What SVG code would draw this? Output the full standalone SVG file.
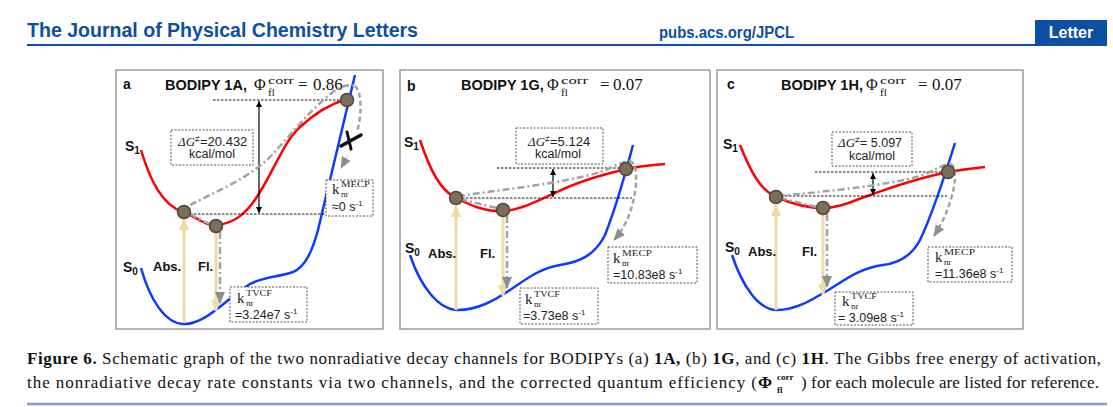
<svg xmlns="http://www.w3.org/2000/svg" width="1113" height="407" viewBox="0 0 1113 407">
<defs>
<style>
.serif{font-family:"Liberation Serif","Times New Roman",serif;fill:#111}
.hdr{font-family:"Liberation Sans",Arial,sans-serif;font-weight:bold;fill:#0d4fa3}
.cap{font-family:"Liberation Serif","Times New Roman",serif;fill:#111}
.panel{fill:#fff;stroke:#9a9a9a;stroke-width:1.5}
.s1{fill:none;stroke:#ff0000;stroke-width:2.5}
.s0{fill:none;stroke:#0a3cff;stroke-width:2.5}
.hl{stroke:#111;stroke-width:1;stroke-dasharray:2.5 1.5;fill:none}
.box{fill:#fff;stroke:#555;stroke-width:1;stroke-dasharray:2 1.5}
.wa{stroke:#f2d8a5;stroke-width:3;marker-end:url(#wh)}
.gdd{fill:none;stroke:#a3a3a3;stroke-width:2.5;stroke-dasharray:7 3 2 3}
.gds{fill:none;stroke:#a3a3a3;stroke-width:2.5;stroke-dasharray:5 3}
.gv{fill:none;stroke:#a3a3a3;stroke-width:2.5;stroke-dasharray:7 3 2 3;marker-end:url(#gh)}
.dbl{stroke:#000;stroke-width:1.2;marker-start:url(#bk);marker-end:url(#bk)}
.node{fill:#7b6f55;stroke:#51483a;stroke-width:1.5}
.lbl{font-family:"Liberation Sans",Arial,sans-serif;font-weight:bold;fill:#111}
.bt{font-family:"Liberation Sans",Arial,sans-serif;fill:#222}
.k{font-family:"Liberation Serif","DejaVu Serif",serif;fill:#222}
</style>
<marker id="wh" viewBox="0 0 12 10" refX="11" refY="5" markerWidth="12" markerHeight="10" markerUnits="userSpaceOnUse" orient="auto"><path d="M0,0 L12,5 L0,10 z" fill="#f2d8a5"/></marker>
<marker id="gh" viewBox="0 0 12 10" refX="11" refY="5" markerWidth="12" markerHeight="10" markerUnits="userSpaceOnUse" orient="auto"><path d="M0,0 L12,5 L0,10 z" fill="#8e8e8e"/></marker>
<marker id="bk" viewBox="0 0 6 6" refX="6" refY="3" markerWidth="6" markerHeight="6" markerUnits="userSpaceOnUse" orient="auto-start-reverse"><path d="M0,0 L6,3 L0,6 z" fill="#000"/></marker>
</defs>
<rect width="1113" height="407" fill="#fff"/>

<g id="header">
<text class="hdr" x="27" y="37" font-size="20" textLength="391" lengthAdjust="spacingAndGlyphs">The Journal of Physical Chemistry Letters</text>
<text class="hdr" x="659" y="38" font-size="16" textLength="135" lengthAdjust="spacingAndGlyphs">pubs.acs.org/JPCL</text>
<rect x="1035" y="20" width="72" height="25" fill="#0d4fa3"/>
<text x="1071" y="38" font-family="Liberation Sans, Arial, sans-serif" font-weight="bold" font-size="16" fill="#fff" text-anchor="middle">Letter</text>
<line x1="27" y1="45" x2="1107" y2="45" stroke="#0d4fa3" stroke-width="2"/>
</g>

<!-- Panel a -->
<g id="panel-a">
<rect class="panel" x="116" y="70" width="267" height="259"/>
<text class="lbl" x="123" y="89" font-size="14">a</text>
<text class="lbl" x="165" y="90" font-size="14.5">BODIPY 1A,</text>
<text class="serif" x="254" y="90" font-size="16">Φ</text>
<text class="serif" x="268" y="84" font-size="11" textLength="26" lengthAdjust="spacingAndGlyphs">corr</text>
<text class="serif" x="268" y="96" font-size="11">fl</text>
<text class="serif" x="298" y="90" font-size="17">=</text>
<text class="serif" x="313" y="90" font-size="17">0.86</text>
<text class="lbl" x="125" y="151" font-size="14">S<tspan font-size="10" dy="3">1</tspan></text>
<text class="lbl" x="123" y="272" font-size="14">S<tspan font-size="10" dy="3">0</tspan></text>
<path class="s1" d="M141,150 C150,180 162,205 183,212 C197,217 205,226 216,225 C235,224 248,212 260,192 C275,168 285,140 300,127 C315,113 330,104 347,99"/>
<path class="s0" d="M141,268 C150,300 165,323 183,324 C205,325 225,300 250,284 C265,276 280,277 293,272 C305,267 312,252 318,230 L355,75"/>
<g id="a-connectors">
<path class="hl" d="M213,100 H347"/>
<path class="hl" d="M186,214 H327"/>
<line class="dbl" x1="259" y1="101" x2="259" y2="213"/>
<line class="wa" x1="184" y1="323" x2="184" y2="219"/>
<line class="wa" x1="216" y1="233" x2="216" y2="311"/>
<line class="gv" x1="220" y1="232" x2="220" y2="303"/>
<path class="gdd" d="M190,214 Q200,220 210,224" stroke-width="2"/>
<path class="gdd" d="M190,205 C215,192 250,178 272,155 C292,133 312,108 333,92 C341,86 349,84 355,86"/>
<path class="gds" d="M355,86 C362,92 362,115 357,132"/>
<path d="M352,148 L341,168" fill="none" stroke="#e9e5dd" stroke-width="2.5" stroke-dasharray="5 3" marker-end="url(#gh)"/>
<line x1="341" y1="146" x2="361" y2="135" stroke="#111" stroke-width="3.5" stroke-linecap="round"/>
<line x1="347" y1="132" x2="351" y2="149" stroke="#111" stroke-width="3" stroke-linecap="round"/>
</g>
<g id="a-dG"><rect class="box" x="171" y="130" width="82" height="35"/>
<text class="bt" x="178" y="146" font-size="13"><tspan font-family="Liberation Serif, serif" font-style="italic">ΔG</tspan><tspan font-size="9" dy="-4">≠</tspan><tspan dy="4">=20.432</tspan></text>
<text class="bt" x="212" y="158" font-size="12.5" text-anchor="middle">kcal/mol</text></g>
<g id="a-kMECP"><rect class="box" x="326" y="180" width="47" height="36"/>
<text class="k" x="332" y="194" font-size="15">k</text>
<text class="k" x="341" y="186.5" font-size="8" textLength="29" lengthAdjust="spacingAndGlyphs">MECP</text>
<text class="k" x="341" y="196.5" font-size="9">nr</text>
<text class="bt" x="332" y="210.5" font-size="12.5">≈0 s<tspan font-size="8" dy="-5">-1</tspan></text></g>
<g id="a-kTVCF"><rect class="box" x="230" y="287" width="77" height="35"/>
<text class="k" x="237" y="303" font-size="15">k</text>
<text class="k" x="246" y="295.5" font-size="8" textLength="26" lengthAdjust="spacingAndGlyphs">TVCF</text>
<text class="k" x="246" y="305.5" font-size="9">nr</text>
<text class="bt" x="235" y="319" font-size="12.5">=3.24e7 s<tspan font-size="8" dy="-5">-1</tspan></text></g>
<text class="lbl" x="153" y="271" font-size="13">Abs.</text>
<text class="lbl" x="198" y="271" font-size="13">Fl.</text>
<g id="a-nodes">
<circle id="a-n1" class="node" cx="184" cy="212" r="6.5"/>
<circle id="a-n2" class="node" cx="216" cy="226" r="6.5"/>
<circle id="a-n3" class="node" cx="347" cy="100" r="6.5"/>
</g>
</g>

<!-- Panel b -->
<g id="panel-b">
<rect class="panel" x="400" y="70" width="310" height="259"/>
<text class="lbl" x="407" y="91" font-size="14">b</text>
<text class="lbl" x="461" y="90" font-size="14.5">BODIPY 1G,</text>
<text class="serif" x="547" y="90" font-size="16">Φ</text>
<text class="serif" x="561" y="84" font-size="11" textLength="27" lengthAdjust="spacingAndGlyphs">corr</text>
<text class="serif" x="561" y="96" font-size="11">fl</text>
<text class="serif" x="600" y="90" font-size="17">=</text>
<text class="serif" x="613" y="90" font-size="17">0.07</text>
<text class="lbl" x="404" y="147" font-size="14">S<tspan font-size="10" dy="3">1</tspan></text>
<text class="lbl" x="405" y="253" font-size="14">S<tspan font-size="10" dy="3">0</tspan></text>
<path class="s1" d="M420,140 C430,170 440,190 456,198 C470,205 485,212 503,211 C520,210 540,200 555,193 C575,183 600,175 627,169 C640,166 655,165 665,164"/>
<path class="s0" d="M410,255 C420,285 438,310 458,310 C478,310 495,300 510,290 C525,280 540,268 560,265 C580,262 595,255 605,235 C615,210 625,175 633,145"/>
<g id="b-connectors">
<path class="hl" d="M497,168 H627"/>
<path class="hl" d="M458,198 H632"/>
<line class="dbl" x1="553" y1="169" x2="553" y2="197"/>
<line class="wa" x1="456" y1="310" x2="456" y2="206"/>
<line class="wa" x1="503" y1="217" x2="503" y2="296"/>
<line class="gv" x1="507" y1="216" x2="507" y2="288"/>
<path class="gdd" d="M460,199 Q480,204 497,208" stroke-width="2"/>
<path class="gdd" d="M458,196 C500,190 565,183 600,172 C610,169 620,162 630,161"/>
<path class="gds" d="M630,161 C640,163 637,200 626,222 Q621,232 614,240" marker-end="url(#gh)"/>
</g>
<g id="b-dG"><rect class="box" x="516" y="128" width="87" height="36"/>
<text class="bt" x="528" y="146" font-size="13"><tspan font-family="Liberation Serif, serif" font-style="italic">ΔG</tspan><tspan font-size="9" dy="-4">≠</tspan><tspan dy="4">=5.124</tspan></text>
<text class="bt" x="558" y="158" font-size="12.5" text-anchor="middle">kcal/mol</text></g>
<g id="b-kMECP"><rect class="box" x="608" y="247" width="89" height="36"/>
<text class="k" x="613" y="263" font-size="15">k</text>
<text class="k" x="622" y="255.5" font-size="8" textLength="30" lengthAdjust="spacingAndGlyphs">MECP</text>
<text class="k" x="622" y="265.5" font-size="9">nr</text>
<text class="bt" x="613" y="279" font-size="12.5">=10.83e8 s<tspan font-size="8" dy="-5">-1</tspan></text></g>
<g id="b-kTVCF"><rect class="box" x="520" y="288" width="78" height="36"/>
<text class="k" x="525" y="304" font-size="15">k</text>
<text class="k" x="534" y="296.5" font-size="8" textLength="26" lengthAdjust="spacingAndGlyphs">TVCF</text>
<text class="k" x="534" y="306.5" font-size="9">nr</text>
<text class="bt" x="523" y="320" font-size="12.5">=3.73e8 s<tspan font-size="8" dy="-5">-1</tspan></text></g>
<text class="lbl" x="428" y="258" font-size="13">Abs.</text>
<text class="lbl" x="480" y="258" font-size="13">Fl.</text>
<g id="b-nodes">
<circle id="b-n1" class="node" cx="456" cy="198" r="6.5"/>
<circle id="b-n2" class="node" cx="503" cy="210" r="6.5"/>
<circle id="b-n3" class="node" cx="626" cy="169" r="6.5"/>
</g>
</g>

<!-- Panel c -->
<g id="panel-c">
<rect class="panel" x="717" y="70" width="306" height="259"/>
<text class="lbl" x="727" y="89" font-size="14">c</text>
<text class="lbl" x="781" y="90" font-size="14.5">BODIPY 1H,</text>
<text class="serif" x="866" y="90" font-size="16">Φ</text>
<text class="serif" x="880" y="84" font-size="11" textLength="26" lengthAdjust="spacingAndGlyphs">corr</text>
<text class="serif" x="880" y="96" font-size="11">fl</text>
<text class="serif" x="918" y="90" font-size="17">=</text>
<text class="serif" x="932" y="90" font-size="17">0.07</text>
<text class="lbl" x="723" y="149" font-size="14">S<tspan font-size="10" dy="3">1</tspan></text>
<text class="lbl" x="725" y="252" font-size="14">S<tspan font-size="10" dy="3">0</tspan></text>
<path class="s1" d="M740,145 C750,170 760,190 776,197 C790,203 805,208 823,208 C840,208 855,200 870,195 C890,188 910,180 948,172 C960,170 975,168 985,167"/>
<path class="s0" d="M732,255 C742,285 758,310 777,310 C797,310 815,298 830,289 C845,280 860,268 883,265 C900,263 912,255 920,240 C932,215 945,175 955,143"/>
<g id="c-connectors">
<path class="hl" d="M815,172 H948"/>
<path class="hl" d="M777,196 H947"/>
<line class="dbl" x1="873" y1="173" x2="873" y2="195"/>
<line class="wa" x1="776" y1="310" x2="776" y2="205"/>
<line class="wa" x1="823" y1="215" x2="823" y2="295"/>
<line class="gv" x1="827" y1="214" x2="827" y2="287"/>
<path class="gdd" d="M780,198 Q800,203 817,207" stroke-width="2"/>
<path class="gdd" d="M778,196 C820,192 885,186 920,176 C932,172 942,164 951,164"/>
<path class="gds" d="M951,164 C958,168 955,190 948,208 Q943,222 934,236" marker-end="url(#gh)"/>
</g>
<g id="c-dG"><rect class="box" x="832" y="132" width="80" height="34"/>
<text class="bt" x="838" y="147" font-size="12.5"><tspan font-family="Liberation Serif, serif" font-style="italic" font-size="13">ΔG</tspan><tspan font-size="9" dy="-4">≠</tspan><tspan dy="4">= 5.097</tspan></text>
<text class="bt" x="872" y="160" font-size="12.5" text-anchor="middle">kcal/mol</text></g>
<g id="c-kMECP"><rect class="box" x="928" y="247" width="84" height="35"/>
<text class="k" x="935" y="262" font-size="15">k</text>
<text class="k" x="944" y="254.5" font-size="8" textLength="31" lengthAdjust="spacingAndGlyphs">MECP</text>
<text class="k" x="944" y="264.5" font-size="9">nr</text>
<text class="bt" x="935" y="278" font-size="12.5">=11.36e8 s<tspan font-size="8" dy="-5">-1</tspan></text></g>
<g id="c-kTVCF"><rect class="box" x="835" y="292" width="78" height="33"/>
<text class="k" x="842" y="306" font-size="15">k</text>
<text class="k" x="851" y="298.5" font-size="8" textLength="26" lengthAdjust="spacingAndGlyphs">TVCF</text>
<text class="k" x="851" y="308.5" font-size="9">nr</text>
<text class="bt" x="838" y="322" font-size="12.5">= 3.09e8 s<tspan font-size="8" dy="-5">-1</tspan></text></g>
<text class="lbl" x="748" y="256" font-size="13">Abs.</text>
<text class="lbl" x="802" y="256" font-size="13">Fl.</text>
<g id="c-nodes">
<circle id="c-n1" class="node" cx="776" cy="197" r="6.5"/>
<circle id="c-n2" class="node" cx="823" cy="208" r="6.5"/>
<circle id="c-n3" class="node" cx="948" cy="172" r="6.5"/>
</g>
</g>

<g id="caption">
<text class="cap" x="27" y="364" font-size="17" textLength="1074" lengthAdjust="spacing"><tspan font-weight="bold">Figure 6.</tspan> Schematic graph of the two nonradiative decay channels for BODIPYs (a) <tspan font-weight="bold">1A,</tspan> (b) <tspan font-weight="bold">1G</tspan>, and (c) <tspan font-weight="bold">1H</tspan>. The Gibbs free energy of activation,</text>
<text class="cap" x="27" y="388" font-size="17" textLength="730" lengthAdjust="spacing">the nonradiative decay rate constants via two channels, and the corrected quantum efficiency (</text>
<text class="cap" x="758" y="388" font-size="17" font-weight="bold">Φ</text>
<text class="cap" x="777" y="380" font-size="9" font-weight="bold">corr</text>
<text class="cap" x="777" y="393" font-size="9" font-weight="bold">fl</text>
<text class="cap" x="801" y="388" font-size="17" textLength="298" lengthAdjust="spacing">) for each molecule are listed for reference.</text>
<line x1="27" y1="404" x2="1107" y2="404" stroke="#7c9fd4" stroke-width="2.5"/>
</g>
</svg>
